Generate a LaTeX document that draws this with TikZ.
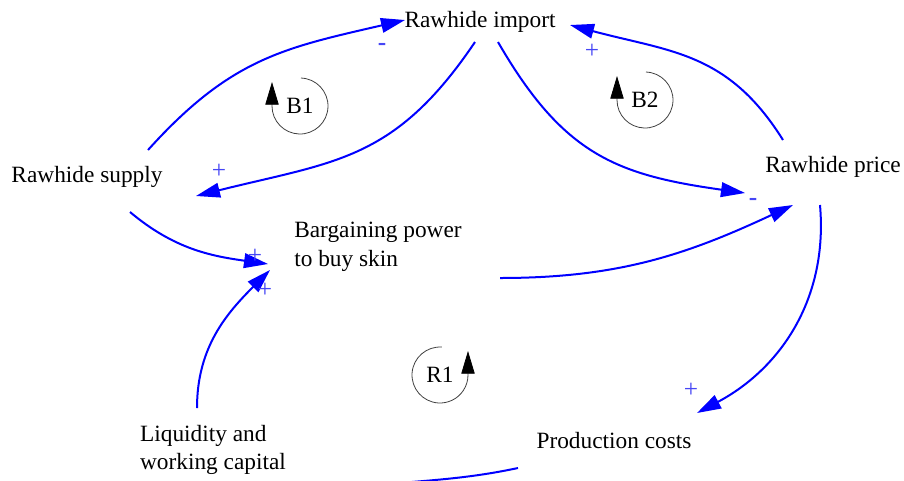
\documentclass[tikz,border=0pt]{standalone}
\usepackage{fontspec}
\setmainfont{Liberation Serif}
\usetikzlibrary{arrows.meta}
\definecolor{sgn}{RGB}{70,70,245}

\begin{document}
\begin{tikzpicture}[x=0.75pt,y=0.75pt,>={Triangle[length=18pt,width=11pt]},
  v/.style={inner sep=0pt,align=left,font=\fontsize{17.5}{21.5}\selectfont},
  c/.style={->,draw=blue,line width=1.5pt},
  s/.style={inner sep=0pt,text=sgn,font=\fontsize{19}{19}\selectfont},
  lp/.style={draw=black!75,line width=0.6pt,-{Triangle[length=17pt,width=10pt,color=black]}}]
\clip (0,0) rectangle (904,-480);
\node[v] (imp) at (480,-22) {Rawhide import};
\node[v] (sup) at (87,-177) {Rawhide supply};
\node[v] (pri) at (833,-167) {Rawhide price};
\node[v] (bar) at (378,-247) {Bargaining power\\to buy skin};
\node[v] (liq) at (213,-450) {Liquidity and\\working capital};
\node[v] (pc) at (614,-441) {Production costs};
\coordinate (cut) at (330,-492);
% links
\draw[c] ([shift={(61,27)}]sup.center) to[out=48,in=193,looseness=1.1] ([shift={(-75,2)}]imp.center);
\draw[c] ([shift={(-5,-20)}]imp.center) to[out=236,in=14,looseness=1.15] ([shift={(109,-19)}]sup.center);
\draw[c] ([shift={(18,-20)}]imp.center) to[out=-60,in=172,looseness=1.15] ([shift={(-88,-26)}]pri.center);
\draw[c] ([shift={(-50,27)}]pri.center) to[out=122,in=-15,looseness=1.1] ([shift={(90,-3)}]imp.center);
\draw[c] ([shift={(-13,-38)}]pri.center) to[out=-85,in=28] ([shift={(83,28)}]pc.center);
\draw[c] ([shift={(122,-31)}]bar.center) to[out=0,in=205] ([shift={(-40,-38)}]pri.center);
\draw[c] ([shift={(43,-35)}]sup.center) to[out=-40,in=172] ([shift={(-110,-17)}]bar.center);
\draw[c] ([shift={(-16,42)}]liq.center) to[out=90,in=225] ([shift={(-108,-23)}]bar.center);
\draw[c,-] ([shift={(-96,-27)}]pc.center) to[out=192,in=10] (cut);
% polarities
\node[s] (sg1) at (382,-47) {\textbf{-}};
\node[s] (sg2) at (219,-171) {+};
\node[s] (sg3) at (592,-51) {+};
\node[s] (sg4) at (753,-202) {\textbf{-}};
\node[s] (sg5) at (691,-390) {+};
\node[s] (sg6) at (255,-256) {+};
\node[s] (sg7) at (265,-290) {+};
% loops
\node[v] (b1) at (300,-106) {B1};
\node[v] (b2) at (645,-100) {B2};
\node[v] (r1) at (440,-375) {R1};
\draw[lp] ([shift={(88:21pt)}]b1.center) arc[start angle=88,end angle=-180,radius=21pt] -- ++(0,18pt);
\draw[lp] ([shift={(88:21pt)}]b2.center) arc[start angle=88,end angle=-180,radius=21pt] -- ++(0,18pt);
\draw[lp] ([shift={(86:21pt)}]r1.center) arc[start angle=86,end angle=360,radius=21pt] -- ++(0,18pt);
\end{tikzpicture}
\end{document}
